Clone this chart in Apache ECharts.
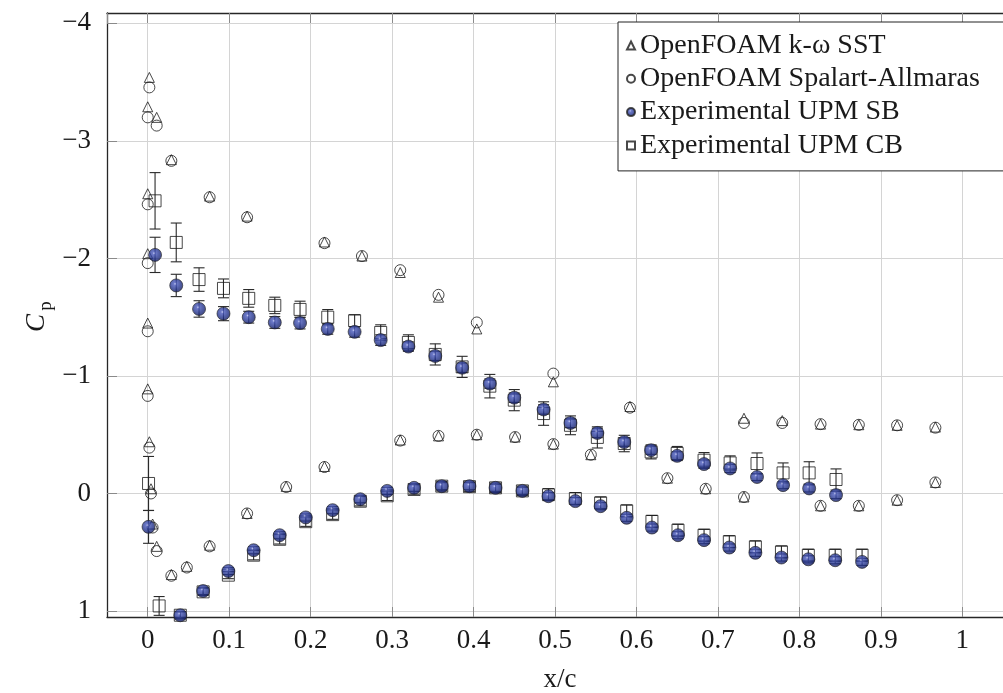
<!DOCTYPE html>
<html>
<head>
<meta charset="utf-8">
<title>Pressure coefficient distribution</title>
<script src="https://cdn.jsdelivr.net/npm/echarts@6/dist/echarts.min.js"></script>
<style>
  html, body { margin: 0; padding: 0; background: #fff; }
  #chart { width: 1003px; height: 693px; }
</style>
</head>
<body>
<div id="chart"></div>
<script>
// Chordwise stations of the CFD surface samples (upper then lower surface)
const cfdX = [0.002, 0.000, 0.011, 0.029, 0.000, 0.076, 0.122, 0.217, 0.000, 0.263, 0.310, 0.357, 0.404, 0.498, 0.592, 0.732, 0.779, 0.826, 0.873, 0.920, 0.967,
              0.000, 0.000, 0.002, 0.004, 0.006, 0.011, 0.029, 0.048, 0.076, 0.122, 0.170, 0.217, 0.310, 0.357, 0.404, 0.451, 0.498, 0.544, 0.638, 0.685, 0.732, 0.826, 0.873, 0.920, 0.967];
// OpenFOAM k-omega SST
const kwCp = [-3.54, -3.29, -3.20, -2.84, -2.55, -2.53, -2.36, -2.14, -2.04, -2.02, -1.88, -1.67, -1.40, -0.95, -0.74, -0.64, -0.62, -0.59, -0.585, -0.58, -0.565,
              -1.45, -0.89, -0.44, -0.04, 0.26, 0.45, 0.69, 0.62, 0.44, 0.17, -0.06, -0.23, -0.455, -0.49, -0.50, -0.48, -0.42, -0.33, -0.13, -0.04, 0.03, 0.105, 0.105, 0.057, -0.094];
// OpenFOAM Spalart-Allmaras
const saCp = [-3.455, -3.20, -3.13, -2.83, -2.46, -2.52, -2.35, -2.13, -1.96, -2.02, -1.90, -1.69, -1.455, -1.02, -0.73, -0.60, -0.60, -0.59, -0.584, -0.58, -0.56,
              -1.38, -0.83, -0.39, 0.00, 0.29, 0.49, 0.70, 0.63, 0.45, 0.17, -0.055, -0.225, -0.45, -0.49, -0.50, -0.48, -0.42, -0.33, -0.13, -0.04, 0.03, 0.105, 0.105, 0.057, -0.094];

// Wind-tunnel pressure taps, UPM, SB configuration
const sbX = [0.009, 0.035, 0.063, 0.093, 0.124, 0.156, 0.187, 0.221, 0.254, 0.286, 0.320, 0.353, 0.386, 0.420, 0.450, 0.486, 0.519, 0.552, 0.585, 0.618, 0.650, 0.683, 0.715, 0.748, 0.780, 0.812, 0.845,
             0.001, 0.040, 0.068, 0.099, 0.130, 0.162, 0.194, 0.227, 0.261, 0.294, 0.327, 0.361, 0.395, 0.427, 0.460, 0.492, 0.525, 0.556, 0.588, 0.619, 0.651, 0.683, 0.714, 0.746, 0.778, 0.811, 0.844, 0.877];
const sbCp = [-2.03, -1.77, -1.57, -1.53, -1.50, -1.455, -1.45, -1.40, -1.375, -1.305, -1.25, -1.17, -1.07, -0.935, -0.815, -0.715, -0.60, -0.515, -0.437, -0.368, -0.32, -0.25, -0.213, -0.14, -0.071, -0.043, 0.014,
              0.284, 1.036, 0.83, 0.66, 0.483, 0.355, 0.204, 0.142, 0.049, -0.022, -0.048, -0.062, -0.062, -0.048, -0.022, 0.023, 0.065, 0.108, 0.207, 0.29, 0.355, 0.397, 0.46, 0.505, 0.545, 0.56, 0.568, 0.582];
const sbErr = [0.15, 0.095, 0.07, 0.06, 0.05, 0.05, 0.05, 0.045, 0.045, 0.045, 0.04, 0.04, 0.04, 0.04, 0.04, 0.04, 0.04, 0.04, 0.035, 0.035, 0.035, 0.035, 0.035, 0.03, 0.03, 0.03, 0.03,
               0.14, 0.03, 0.03, 0.03, 0.03, 0.03, 0.03, 0.03, 0.03, 0.03, 0.03, 0.03, 0.03, 0.03, 0.03, 0.03, 0.03, 0.03, 0.03, 0.03, 0.03, 0.03, 0.03, 0.03, 0.03, 0.03, 0.03, 0.03];

// Wind-tunnel pressure taps, UPM, CB configuration
const cbX = [0.009, 0.035, 0.063, 0.093, 0.124, 0.156, 0.187, 0.221, 0.254, 0.286, 0.320, 0.353, 0.386, 0.420, 0.450, 0.486, 0.519, 0.552, 0.585, 0.618, 0.650, 0.683, 0.715, 0.748, 0.780, 0.812, 0.845,
             0.001, 0.014, 0.040, 0.068, 0.099, 0.130, 0.162, 0.194, 0.227, 0.261, 0.294, 0.327, 0.361, 0.395, 0.427, 0.460, 0.492, 0.525, 0.556, 0.588, 0.619, 0.651, 0.683, 0.714, 0.746, 0.778, 0.811, 0.844, 0.877];
const cbCp = [-2.49, -2.136, -1.82, -1.745, -1.66, -1.60, -1.566, -1.50, -1.47, -1.37, -1.285, -1.183, -1.077, -0.913, -0.794, -0.68, -0.58, -0.477, -0.425, -0.354, -0.34, -0.283, -0.26, -0.255, -0.175, -0.175, -0.119,
              -0.085, 0.957, 1.036, 0.837, 0.695, 0.525, 0.39, 0.24, 0.18, 0.066, 0.02, -0.034, -0.062, -0.058, -0.048, -0.022, 0.01, 0.043, 0.08, 0.148, 0.237, 0.312, 0.355, 0.41, 0.454, 0.497, 0.525, 0.525, 0.525];
const cbErr = [0.24, 0.165, 0.10, 0.08, 0.075, 0.07, 0.07, 0.065, 0.05, 0.065, 0.065, 0.09, 0.09, 0.10, 0.09, 0.10, 0.08, 0.09, 0.07, 0.06, 0.06, 0.065, 0.06, 0.09, 0.085, 0.095, 0.09,
               0.23, 0.08, 0.03, 0.03, 0.03, 0.04, 0.04, 0.04, 0.04, 0.04, 0.04, 0.04, 0.04, 0.04, 0.04, 0.04, 0.05, 0.05, 0.05, 0.05, 0.05, 0.05, 0.05, 0.05, 0.05, 0.05, 0.05, 0.05, 0.05];

const seriesNames = ['OpenFOAM k-\u03C9 SST', 'OpenFOAM Spalart-Allmaras', 'Experimental UPM SB', 'Experimental UPM CB'];

const FONT = 'Liberation Serif';
const INK = '#1a1a1a';

const pairs = (xs, ys) => xs.map((x, i) => [x, ys[i]]);
const bars = (xs, ys, es) => xs.map((x, i) => [x, ys[i] - es[i], ys[i] + es[i]]);

// vertical error bar with end caps
function errorBar(params, api) {
  const x = api.value(0);
  const lo = api.coord([x, api.value(1)]);
  const hi = api.coord([x, api.value(2)]);
  const hw = 5.5;
  const style = { stroke: '#2a2a2a', lineWidth: 1.1 };
  return {
    type: 'group',
    children: [
      { type: 'line', shape: { x1: lo[0], y1: lo[1], x2: hi[0], y2: hi[1] }, style },
      { type: 'line', shape: { x1: lo[0] - hw, y1: lo[1], x2: lo[0] + hw, y2: lo[1] }, style },
      { type: 'line', shape: { x1: hi[0] - hw, y1: hi[1], x2: hi[0] + hw, y2: hi[1] }, style }
    ]
  };
}

// shaded ball marker for the SB measurements
const sphere = {
  type: 'radial', x: 0.42, y: 0.38, r: 0.68,
  colorStops: [
    { offset: 0, color: '#b8c0f0' },
    { offset: 0.15, color: '#4a5abd' },
    { offset: 0.55, color: '#26368f' },
    { offset: 1, color: '#10185a' }
  ]
};

const fmtY = v => {
  const r = Math.round(v);
  if (Math.abs(v - r) > 1e-6) return '';
  return r < 0 ? '\u2212' + Math.abs(r) : String(r);
};
const fmtX = v => {
  const r = Math.round(v * 10);
  if (Math.abs(v * 10 - r) > 1e-6 || r < 0 || r > 10) return '';
  if (r === 0) return '0';
  if (r === 10) return '1';
  return (r / 10).toFixed(1);
};

const tickStyle = { show: true, inside: true, length: 10, lineStyle: { color: '#8a8a8a', width: 1 } };
const gridLine = { show: true, lineStyle: { color: '#d4d4d4', width: 1 } };

const chart = echarts.init(document.getElementById('chart'), null, { renderer: 'canvas' });

chart.setOption({
  animation: false,
  backgroundColor: '#ffffff',
  grid: { left: 107, top: 13, width: 906, height: 604 },
  xAxis: [
    {
      type: 'value', position: 'bottom', min: -0.05, max: 1.05, minInterval: 0.1, maxInterval: 0.1,
      axisLine: { show: true, onZero: false, lineStyle: { color: '#262626', width: 1.3 } },
      axisTick: tickStyle,
      splitLine: gridLine,
      axisLabel: { formatter: fmtX, margin: 10, fontFamily: FONT, fontSize: 27, color: INK, showMinLabel: false, showMaxLabel: false }
    },
    {
      type: 'value', position: 'top', min: -0.05, max: 1.05, minInterval: 0.1, maxInterval: 0.1,
      axisLine: { show: true, onZero: false, lineStyle: { color: '#262626', width: 1.3 } },
      axisTick: tickStyle,
      splitLine: { show: false },
      axisLabel: { show: false }
    }
  ],
  yAxis: {
    type: 'value', inverse: true, min: -4.088, max: 1.051, minInterval: 1, maxInterval: 1,
    axisLine: { show: true, onZero: false, lineStyle: { color: '#262626', width: 1.3 } },
    axisTick: tickStyle,
    splitLine: gridLine,
    axisLabel: { formatter: fmtY, margin: 16, fontFamily: FONT, fontSize: 27, color: INK, showMinLabel: false, showMaxLabel: false }
  },
  legend: {
    orient: 'vertical', left: 618, top: 22,
    padding: [7, 40, 9, 8],
    itemGap: 0.3, itemWidth: 8, itemHeight: 8,
    backgroundColor: '#ffffff', borderColor: '#222', borderWidth: 1, borderRadius: 0,
    textStyle: { fontFamily: FONT, fontSize: 28, color: INK, lineHeight: 33 },
    selectedMode: false,
    data: seriesNames
  },
  graphic: [
    { type: 'text', x: 560, y: 680, style: { text: 'x/c', font: '27px "Liberation Serif"', fill: INK, align: 'center', verticalAlign: 'middle' } },
    { type: 'text', x: 37, y: 323, rotation: Math.PI / 2, style: { text: 'C', font: 'italic 27px "Liberation Serif"', fill: INK, align: 'center', verticalAlign: 'middle' } },
    { type: 'text', x: 46, y: 306, rotation: Math.PI / 2, style: { text: 'p', font: '19px "Liberation Serif"', fill: INK, align: 'center', verticalAlign: 'middle' } }
  ],
  series: [
    {
      name: seriesNames[0], type: 'scatter', z: 2, symbol: 'triangle', symbolSize: 10,
      itemStyle: { color: 'transparent', borderColor: '#1a1a1a', borderWidth: 1 },
      emphasis: { disabled: true },
      data: pairs(cfdX, kwCp)
    },
    {
      name: seriesNames[1], type: 'scatter', z: 3, symbol: 'circle', symbolSize: 11,
      itemStyle: { color: 'transparent', borderColor: '#1a1a1a', borderWidth: 1 },
      emphasis: { disabled: true },
      data: pairs(cfdX, saCp)
    },
    {
      type: 'custom', z: 4, renderItem: errorBar, encode: { x: 0, y: [1, 2] },
      silent: true, data: bars(cbX, cbCp, cbErr)
    },
    {
      name: seriesNames[3], type: 'scatter', z: 5, symbol: 'rect', symbolSize: 12,
      itemStyle: { color: 'transparent', borderColor: '#1a1a1a', borderWidth: 1 },
      emphasis: { disabled: true },
      data: pairs(cbX, cbCp)
    },
    {
      type: 'custom', z: 6, renderItem: errorBar, encode: { x: 0, y: [1, 2] },
      silent: true, data: bars(sbX, sbCp, sbErr)
    },
    {
      name: seriesNames[2], type: 'scatter', z: 7, symbol: 'circle', symbolSize: 13,
      itemStyle: { color: sphere, borderColor: '#222', borderWidth: 0.8 },
      emphasis: { disabled: true },
      data: pairs(sbX, sbCp)
    }
  ]
});
</script>
</body>
</html>
